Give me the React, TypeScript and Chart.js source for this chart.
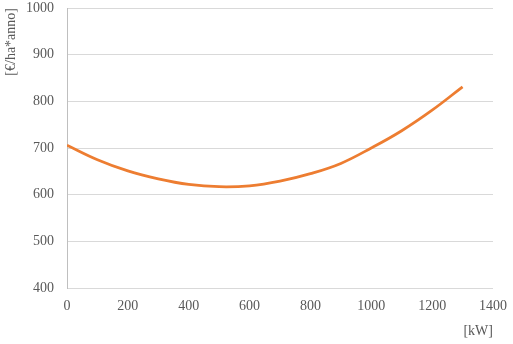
import React, { useEffect, useRef } from "react";
import { Chart, registerables } from "chart.js";

Chart.register(...registerables);

const xValues = [0, 100, 200, 300, 400, 500, 600, 700, 800, 900, 1000, 1100, 1200, 1300];
const costValues = [706, 675, 651, 634, 622, 617, 619, 629, 645, 667, 700, 737, 781, 831];
const xTicks = [0, 200, 400, 600, 800, 1000, 1200, 1400];
const yTicks = [400, 500, 600, 700, 800, 900, 1000];
const yTitle = "[€/ha*anno]";
const xTitle = "[kW]";

const FONT = "'Liberation Serif', 'DejaVu Serif', serif";
const TEXT = "#595959";

export default function App() {
  const ref = useRef<HTMLCanvasElement | null>(null);
  useEffect(() => {
    if (!ref.current) return;
    const chart = new Chart(ref.current, {
      type: "line",
      data: {
        datasets: [
          {
            data: xValues.map((x, i) => ({ x, y: costValues[i] })),
            borderColor: "#ED7D31",
            backgroundColor: "#ED7D31",
            borderWidth: 2.75,
            pointRadius: 0,
            tension: 0.4,
            fill: false,
          },
        ],
      },
      options: {
        animation: false,
        responsive: false,
        maintainAspectRatio: false,
        layout: { padding: { left: 0, right: 20, top: 8, bottom: 4 } },
        plugins: { legend: { display: false }, tooltip: { enabled: false } },
        scales: {
          x: {
            type: "linear",
            min: 0,
            max: 1400,
            afterBuildTicks: (s: any) => {
              s.ticks = xTicks.map((v) => ({ value: v }));
            },
            grid: { display: false, drawTicks: false },
            border: { display: false },
            ticks: {
              padding: 10,
              color: TEXT,
              font: { family: FONT, size: 14 },
              maxRotation: 0,
              callback: (v: any) => String(v),
            },
            title: {
              display: true,
              text: xTitle,
              align: "end",
              color: TEXT,
              font: { family: FONT, size: 14 },
              padding: { top: 6, bottom: 0 },
            },
            afterFit: (s: any) => {
              s.height = 52;
              s.paddingLeft = 0;
              s.paddingRight = 0;
            },
          },
          y: {
            min: 400,
            max: 1000,
            afterBuildTicks: (s: any) => {
              s.ticks = yTicks.map((v) => ({ value: v }));
            },
            grid: { color: "#d9d9d9", lineWidth: 1, drawTicks: false },
            border: { display: true, color: "#bfbfbf", width: 1 },
            ticks: {
              padding: 13,
              color: TEXT,
              font: { family: FONT, size: 14 },
              callback: (v: any) => String(v),
            },
            title: {
              display: true,
              text: yTitle,
              align: "end",
              color: TEXT,
              font: { family: FONT, size: 14 },
              padding: { top: 3, bottom: 0 },
            },
            afterFit: (s: any) => {
              s.width = 67;
              s.paddingTop = 0;
              s.paddingBottom = 0;
            },
          },
        },
      },
    });
    return () => chart.destroy();
  }, []);
  return (
    <div style={{ position: "absolute", left: 0, top: 0, width: 513, height: 344, background: "#fff" }}>
      <canvas ref={ref} width={513} height={344} style={{ width: 513, height: 344 }} />
    </div>
  );
}
